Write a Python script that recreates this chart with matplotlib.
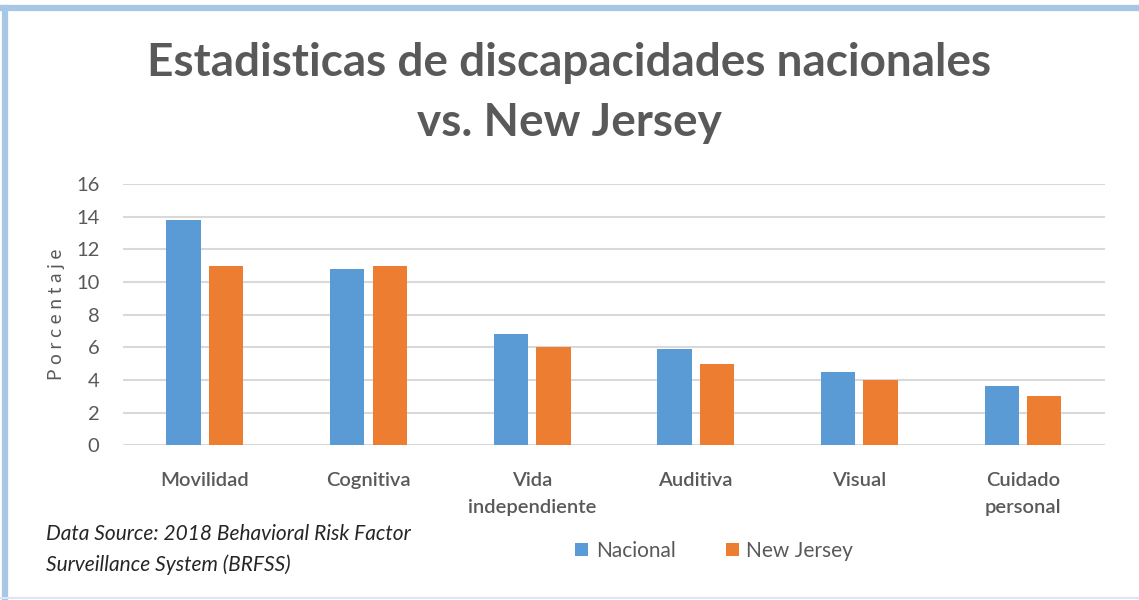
import matplotlib.pyplot as plt
import numpy as np

# data
categorias = ['Movilidad', 'Cognitiva', 'Vida\nindependiente', 'Auditiva', 'Visual', 'Cuidado\npersonal']
nacional = [13.8, 10.8, 6.8, 5.9, 4.5, 3.6]
new_jersey = [11.0, 11.0, 6.0, 5.0, 4.0, 3.0]
yticks = [0, 2, 4, 6, 8, 10, 12, 14, 16]

azul = '#5B9BD5'
naranja = '#ED7D31'
gris = '#595959'

plt.rcParams['font.family'] = ['Lato', 'DejaVu Sans']

fig = plt.figure(figsize=(11.39, 6.0), dpi=100)
ax = fig.add_axes([0.108, 0.258, 0.862, 0.435])

index = np.arange(len(categorias))
bar_width = 0.21
ax.bar(index - 0.13, nacional, bar_width, color=azul, label='Nacional', zorder=3)
ax.bar(index + 0.13, new_jersey, bar_width, color=naranja, label='New Jersey', zorder=3)

ax.set_xlim(-0.5, len(categorias) - 0.5)
ax.set_ylim(0, 16)
ax.set_yticks(yticks)
ax.yaxis.grid(True, color='#D9D9D9', linewidth=1.5, zorder=0)
ax.tick_params(axis='both', length=0, colors=gris)
ax.tick_params(axis='y', pad=17, labelsize=14.5)
ax.tick_params(axis='x', pad=19)
ax.set_xticks(index)
ax.set_xticklabels(categorias, fontsize=14.5, color=gris, fontweight='semibold', linespacing=1.75)
for s in ax.spines.values():
    s.set_visible(False)
ax.set_ylabel('P o r c e n t a j e', fontsize=13.5, color=gris, labelpad=8)

fig.text(0.5, 0.895, 'Estadisticas de discapacidades nacionales', ha='center', va='center',
         fontsize=33, fontweight='bold', color=gris)
fig.text(0.5, 0.795, 'vs. New Jersey', ha='center', va='center',
         fontsize=33, fontweight='bold', color=gris)

fig.text(0.040, 0.084, 'Data Source: 2018 Behavioral Risk Factor\nSurveillance System (BRFSS)',
         ha='left', va='center', fontsize=15, style='italic', color='#262626', linespacing=1.6)

fig.legend(loc='center', bbox_to_anchor=(0.627, 0.082), ncol=2, frameon=False,
           fontsize=15, labelcolor=gris, handlelength=0.65, handleheight=0.65,
           handletextpad=0.35, columnspacing=2.4)

# light blue frame (top and left heavier, bottom faint)
fig.add_artist(plt.Line2D([0.0045, 0.0045], [0.0, 0.987], transform=fig.transFigure,
                          color='#A7C7E7', linewidth=4.5))
fig.add_artist(plt.Line2D([0.0025, 1.0], [0.987, 0.987], transform=fig.transFigure,
                          color='#A7C7E7', linewidth=4.5))
fig.add_artist(plt.Line2D([0.0, 1.0], [0.004, 0.004], transform=fig.transFigure,
                          color='#DCE6F2', linewidth=1.5))

fig.savefig('out.png', dpi=100)
